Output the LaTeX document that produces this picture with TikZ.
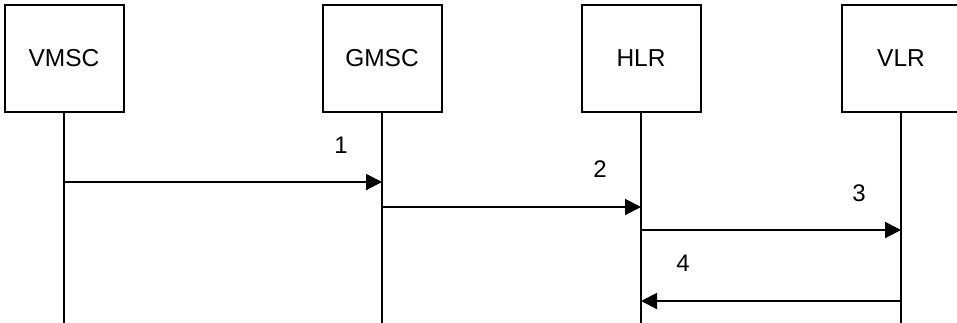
\documentclass[tikz,border=0pt]{standalone}
\usepackage{fontspec}
\setmainfont{Liberation Sans}
\usetikzlibrary{arrows.meta}
\begin{document}
\begin{tikzpicture}[x=1pt,y=-1pt,
  entity/.style={draw,line width=2pt,minimum width=119pt,minimum height=107pt,inner sep=0pt,font=\fontsize{24.5}{28}\selectfont},
  lifeline/.style={line width=2pt},
  msg/.style={line width=2pt,-{Triangle[length=16pt,width=16pt]}},
  num/.style={font=\fontsize{24}{28}\selectfont,inner sep=0pt}]
\useasboundingbox (0,0) rectangle (957,322);
\node[entity] (vm) at (64,58.5) {VMSC};
\node[entity] (gm) at (382,58.5) {GMSC};
\node[entity] (hl) at (641,58.5) {HLR};
\node[entity,minimum width=122pt,xshift=2pt] (vl) at (901,58.5) {\hspace*{-4pt}VLR};
\foreach \n in {vm,gm,hl}{
  \coordinate (\n-end) at (\n.south |- 0,330);
  \draw[lifeline] (\n.south) -- (\n-end);
}
\coordinate (vl-top) at (901,112);
\coordinate (vl-end) at (901,330);
\draw[lifeline] (vl-top) -- (vl-end);
\draw[msg] (vm.south |- 0,182) -- (gm.south |- 0,182);
\draw[msg] (gm.south |- 0,207) -- (hl.south |- 0,207);
\draw[msg] (hl.south |- 0,230) -- (vl-top |- 0,230);
\draw[msg] (vl-top |- 0,301) -- (hl.south |- 0,301);
\node[num] (l1) at (341,145) {1};
\node[num] (l2) at (600,169) {2};
\node[num] (l3) at (859,193) {3};
\node[num] (l4) at (683,263) {4};
\end{tikzpicture}
\end{document}
